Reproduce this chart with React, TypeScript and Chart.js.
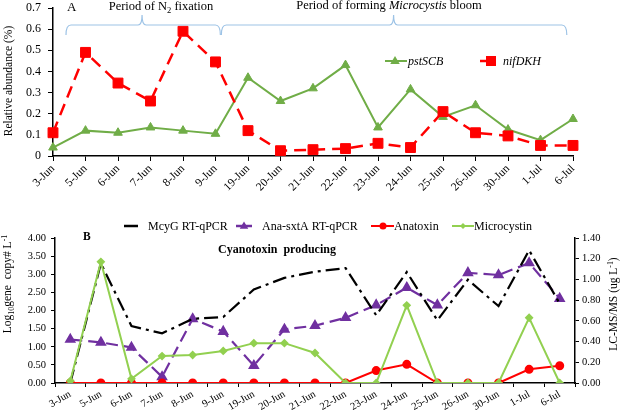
import React, { useEffect, useRef } from 'react';
import { Chart, registerables } from 'chart.js';

Chart.register(...registerables);

const dates = ['3-Jun', '5-Jun', '6-Jun', '7-Jun', '8-Jun', '9-Jun', '19-Jun', '20-Jun', '21-Jun', '22-Jun', '23-Jun', '24-Jun', '25-Jun', '26-Jun', '30-Jun', '1-Jul', '6-Jul'];
const pstSCB = [0.04, 0.12, 0.11, 0.135, 0.12, 0.105, 0.37, 0.26, 0.32, 0.43, 0.135, 0.315, 0.185, 0.24, 0.125, 0.075, 0.175];
const nifDKH = [0.11, 0.49, 0.345, 0.26, 0.59, 0.445, 0.12, 0.025, 0.03, 0.035, 0.06, 0.04, 0.21, 0.11, 0.095, 0.05, 0.05];
const mcyG = [0, 3.3, 1.57, 1.37, 1.77, 1.82, 2.58, 2.9, 3.07, 3.17, 1.87, 3.06, 1.73, 2.85, 2.12, 3.66, 2.19];
const anaSxtA = [1.2, 1.12, 0.98, 0.17, 1.77, 1.42, 0.48, 1.48, 1.58, 1.8, 2.15, 2.63, 2.15, 3.04, 2.98, 3.31, 2.33];
const anatoxin = [0, 0, 0, 0, 0, 0, 0, 0, 0, 0, 0.12, 0.18, 0, 0, 0, 0.132, 0.167];
const microcystin = [0.02, 1.17, 0.04, 0.26, 0.27, 0.31, 0.385, 0.385, 0.29, 0, 0, 0.75, 0, 0, 0, 0.63, 0];

const abundanceMax = 0.7;
const abundanceStep = 0.1;
const geneMax = 4;
const geneStep = 0.5;
const lcMax = 1.4;
const lcStep = 0.2;

const SERIF = '"Liberation Serif", "Times New Roman", serif';
const GREEN = '#70AD47';
const RED = '#FF0000';
const PURPLE = '#7030A0';
const LGREEN = '#92D050';
const BRACKET = '#9DC3E6';

type Part = { t: string; style?: 'italic' | 'bold'; pos?: 'sub' | 'sup' };

function drawRich(ctx: CanvasRenderingContext2D, parts: Part[], x0: number, cy: number, size: number, align: 'left' | 'center' = 'center', rotate = false) {
  ctx.save();
  ctx.translate(x0, cy);
  if (rotate) ctx.rotate(-Math.PI / 2);
  const fontFor = (p: Part) => `${p.style === 'italic' ? 'italic ' : ''}${p.style === 'bold' ? 'bold ' : ''}${p.pos ? size * 0.68 : size}px ${SERIF}`;
  let total = 0;
  const widths = parts.map((p) => {
    ctx.font = fontFor(p);
    const w = ctx.measureText(p.t).width;
    total += w;
    return w;
  });
  let x = align === 'center' ? -total / 2 : 0;
  ctx.textAlign = 'left';
  ctx.textBaseline = 'alphabetic';
  ctx.fillStyle = '#000';
  parts.forEach((p, i) => {
    ctx.font = fontFor(p);
    const dy = p.pos === 'sub' ? size * 0.22 : p.pos === 'sup' ? -size * 0.38 : 0;
    ctx.fillText(p.t, x, dy + size * 0.35);
    x += widths[i];
  });
  ctx.restore();
}

function drawMarker(ctx: CanvasRenderingContext2D, style: string, x: number, y: number, r: number, color: string) {
  ctx.save();
  ctx.fillStyle = color;
  ctx.strokeStyle = color;
  ctx.beginPath();
  if (style === 'triangle') {
    ctx.moveTo(x, y - r);
    ctx.lineTo(x + r * 0.95, y + r * 0.6);
    ctx.lineTo(x - r * 0.95, y + r * 0.6);
    ctx.closePath();
  } else if (style === 'rect') {
    ctx.rect(x - r, y - r, 2 * r, 2 * r);
  } else if (style === 'circle') {
    ctx.arc(x, y, r, 0, Math.PI * 2);
  } else if (style === 'diamond') {
    ctx.moveTo(x, y - r);
    ctx.lineTo(x + r, y);
    ctx.lineTo(x, y + r);
    ctx.lineTo(x - r, y);
    ctx.closePath();
  }
  ctx.fill();
  ctx.restore();
}

function drawSample(ctx: CanvasRenderingContext2D, x1: number, x2: number, y: number, color: string, width: number) {
  ctx.save();
  ctx.strokeStyle = color;
  ctx.lineWidth = width;
  ctx.beginPath();
  ctx.moveTo(x1, y);
  ctx.lineTo(x2, y);
  ctx.stroke();
  ctx.restore();
}

function drawBrace(ctx: CanvasRenderingContext2D, x1: number, xm: number, x2: number, y: number, yEnd: number, yPeak: number) {
  ctx.save();
  ctx.strokeStyle = BRACKET;
  ctx.lineWidth = 1.2;
  ctx.beginPath();
  ctx.moveTo(x1, yEnd);
  ctx.quadraticCurveTo(x1, y, x1 + 5, y);
  ctx.lineTo(xm - 4, y);
  ctx.quadraticCurveTo(xm, y, xm, yPeak);
  ctx.quadraticCurveTo(xm, y, xm + 4, y);
  ctx.lineTo(x2 - 5, y);
  ctx.quadraticCurveTo(x2, y, x2, yEnd);
  ctx.stroke();
  ctx.restore();
}

const annotA = {
  id: 'annotA',
  afterDraw(chart: any) {
    const ctx: CanvasRenderingContext2D = chart.ctx;
    const xs = chart.scales.x;
    const px = (v: number) => xs.getPixelForValue(v);
    drawBrace(ctx, px(0.4), px(2.74), px(5.15), 25, 35, 15);
    drawBrace(ctx, px(5.18), px(10.48), px(15.81), 25, 35, 15);
    drawRich(ctx, [{ t: 'A' }], 67, 6.5, 13, 'left');
    drawRich(ctx, [{ t: 'Period of N' }, { t: '2', pos: 'sub' }, { t: ' fixation' }], 161, 6, 12.5);
    drawRich(ctx, [{ t: 'Period of forming ' }, { t: 'Microcystis', style: 'italic' }, { t: ' bloom' }], 389, 5, 12.5);
    // axis title
    drawRich(ctx, [{ t: 'Relative abundance (%)' }], 8, 81, 11.5, 'center', true);
    // legend
    drawSample(ctx, 385, 407, 61, GREEN, 2);
    drawMarker(ctx, 'triangle', 395, 61, 5, GREEN);
    drawRich(ctx, [{ t: 'pstSCB', style: 'italic' }], 408, 61, 12, 'left');
    drawSample(ctx, 480, 496, 61, RED, 2.5);
    drawMarker(ctx, 'rect', 491, 61, 5, RED);
    drawRich(ctx, [{ t: 'nifDKH', style: 'italic' }], 503, 61, 12, 'left');
  },
};

const annotB = {
  id: 'annotB',
  afterDraw(chart: any) {
    const ctx: CanvasRenderingContext2D = chart.ctx;
    const ly = 26;
    // legend
    ctx.save();
    ctx.setLineDash([14, 5, 3, 5]);
    drawSample(ctx, 124, 138, ly, '#000', 2.5);
    ctx.restore();
    drawRich(ctx, [{ t: 'McyG RT-qPCR' }], 148, ly, 12, 'left');
    drawSample(ctx, 236, 252, ly, PURPLE, 2.5);
    drawMarker(ctx, 'triangle', 244, ly, 4.5, PURPLE);
    drawRich(ctx, [{ t: 'Ana-sxtA RT-qPCR' }], 262, ly, 12, 'left');
    drawSample(ctx, 371, 394, ly, RED, 2);
    drawMarker(ctx, 'circle', 383, ly, 3.5, RED);
    drawRich(ctx, [{ t: 'Anatoxin' }], 394, ly, 12, 'left');
    drawSample(ctx, 452, 474, ly, LGREEN, 2);
    drawMarker(ctx, 'diamond', 463, ly, 3, LGREEN);
    drawRich(ctx, [{ t: 'Microcystin' }], 474, ly, 12, 'left');
    // labels
    drawRich(ctx, [{ t: 'B', style: 'bold' }], 83, 35.5, 11.5, 'left');
    drawRich(ctx, [{ t: 'Cyanotoxin  producing', style: 'bold' }], 277, 49, 12);
    drawRich(ctx, [{ t: 'Log' }, { t: '10', pos: 'sub' }, { t: 'gene  copy# L' }, { t: '-1', pos: 'sup' }], 7, 84, 11.5, 'center', true);
    drawRich(ctx, [{ t: 'LC-MS/MS (ug L' }, { t: '-1', pos: 'sup' }, { t: ')' }], 613, 104, 11.5, 'center', true);
  },
};

const tickFont = (size: number) => ({ family: SERIF, size });

export default function App() {
  const refA = useRef<HTMLCanvasElement>(null);
  const refB = useRef<HTMLCanvasElement>(null);

  useEffect(() => {
    const axisBorder = { display: true, color: '#000', width: 1.5 };
    const chartA = new Chart(refA.current!, {
      type: 'line',
      data: {
        labels: dates,
        datasets: [
          { label: 'pstSCB', data: pstSCB, borderColor: GREEN, backgroundColor: GREEN, borderWidth: 2, pointStyle: 'triangle', pointRadius: 5, pointBorderWidth: 1, order: 1 },
          { label: 'nifDKH', data: nifDKH, borderColor: RED, backgroundColor: RED, borderWidth: 2.5, borderDash: [12, 7], pointStyle: 'rect', pointRadius: 7, pointBorderWidth: 1, order: 0 },
        ],
      },
      options: {
        responsive: false,
        animation: false,
        devicePixelRatio: 1,
        layout: { padding: { top: 4, right: 49, left: 0, bottom: 0 } },
        plugins: { legend: { display: false }, tooltip: { enabled: false } },
        scales: {
          x: {
            type: 'category',
            offset: false,
            grid: { display: true, drawOnChartArea: false, drawTicks: true, tickLength: 5, color: '#000' },
            border: axisBorder,
            ticks: { autoSkip: false, minRotation: 45, maxRotation: 45, color: '#000', font: tickFont(11.5), padding: 1 },
            afterFit: (s: any) => { s.height = 44; s.paddingLeft = 0; s.paddingRight = 0; },
          },
          y: {
            min: 0,
            max: abundanceMax,
            grid: { display: true, drawOnChartArea: false, drawTicks: true, tickLength: 5, color: '#000' },
            border: axisBorder,
            ticks: { stepSize: abundanceStep, color: '#000', font: tickFont(12), padding: 7 },
            afterFit: (s: any) => { s.width = 53; s.paddingTop = 0; s.paddingBottom = 0; },
          },
        },
      } as any,
      plugins: [annotA],
    });

    const chartB = new Chart(refB.current!, {
      type: 'line',
      data: {
        labels: dates,
        datasets: [
          { label: 'McyG RT-qPCR', data: mcyG, yAxisID: 'y', borderColor: '#000', backgroundColor: '#000', borderWidth: 2.2, borderDash: [14, 5, 3, 5], pointRadius: 0, order: 2 },
          { label: 'Ana-sxtA RT-qPCR', data: anaSxtA, yAxisID: 'y', borderColor: PURPLE, backgroundColor: PURPLE, borderWidth: 2.2, borderDash: [12, 6], pointStyle: 'triangle', pointRadius: 4.5, order: 3 },
          { label: 'Anatoxin', data: anatoxin, yAxisID: 'y1', borderColor: RED, backgroundColor: RED, borderWidth: 2, pointStyle: 'circle', pointRadius: 3.5, order: 1 },
          { label: 'Microcystin', data: microcystin, yAxisID: 'y1', borderColor: LGREEN, backgroundColor: LGREEN, borderWidth: 2, pointStyle: 'rectRot', pointRadius: 3, order: 0 },
        ],
      },
      options: {
        responsive: false,
        animation: false,
        devicePixelRatio: 1,
        layout: { padding: { top: 38, right: 0, left: 0, bottom: 0 } },
        plugins: { legend: { display: false }, tooltip: { enabled: false } },
        scales: {
          x: {
            type: 'category',
            offset: true,
            grid: { offset: true, display: true, drawOnChartArea: false, drawTicks: true, tickLength: 4, color: '#000' },
            border: axisBorder,
            ticks: { autoSkip: false, minRotation: 30, maxRotation: 30, color: '#000', font: tickFont(10.5), padding: 1 },
            afterFit: (s: any) => { s.height = 33; s.paddingLeft = 0; s.paddingRight = 0; },
          },
          y: {
            position: 'left',
            min: 0,
            max: geneMax,
            grid: { display: true, drawOnChartArea: false, drawTicks: true, tickLength: 4, color: '#000' },
            border: axisBorder,
            ticks: { stepSize: geneStep, color: '#000', font: tickFont(10.5), padding: 5, callback: (v: any) => Number(v).toFixed(2) },
            afterFit: (s: any) => { s.width = 55; s.paddingTop = 0; s.paddingBottom = 0; },
          },
          y1: {
            position: 'right',
            min: 0,
            max: lcMax,
            grid: { display: true, drawOnChartArea: false, drawTicks: true, tickLength: 4, color: '#000' },
            border: axisBorder,
            ticks: { stepSize: lcStep, color: '#000', font: tickFont(10.5), padding: 3, callback: (v: any) => Number(v).toFixed(2) },
            afterFit: (s: any) => { s.width = 47; s.paddingTop = 0; s.paddingBottom = 0; },
          },
        },
      } as any,
      plugins: [annotB],
    });

    return () => {
      chartA.destroy();
      chartB.destroy();
    };
  }, []);

  return (
    <div style={{ position: 'absolute', left: 0, top: 0, width: 622, height: 416, background: '#fff' }}>
      <canvas ref={refA} width={622} height={200} style={{ position: 'absolute', left: 0, top: 0, width: 622, height: 200 }} />
      <canvas ref={refB} width={622} height={216} style={{ position: 'absolute', left: 0, top: 200, width: 622, height: 216 }} />
    </div>
  );
}
